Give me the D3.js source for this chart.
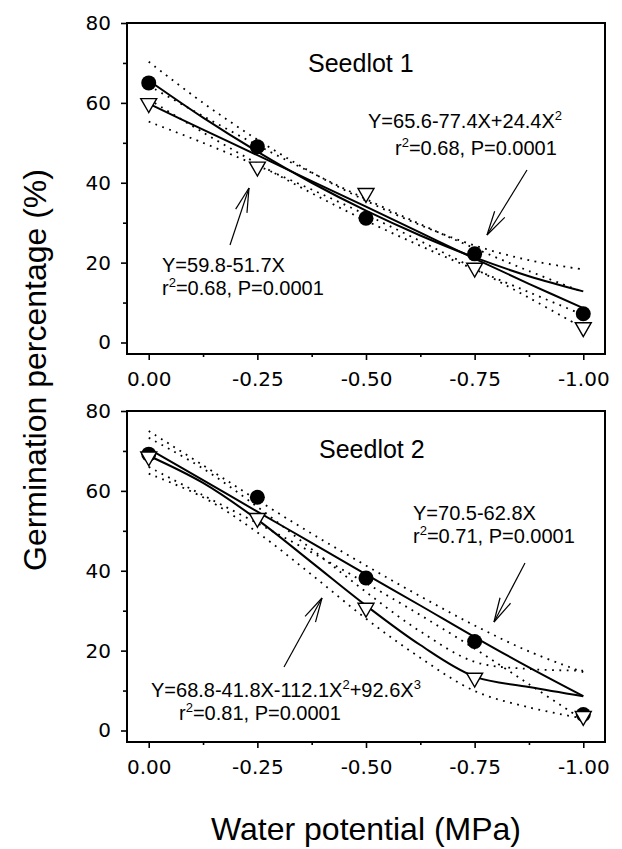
<!DOCTYPE html>
<html><head><meta charset="utf-8">
<script src="https://cdn.jsdelivr.net/npm/d3@7"></script>
<style>
html,body{margin:0;padding:0;background:#fff;}
svg{display:block;}
</style></head>
<body>
<script>
// ---------------- DATA ----------------
const waterPotential = [0, -0.25, -0.5, -0.75, -1.0];
const s1Circles   = [65.0, 49.0, 31.1, 22.2, 7.2];
const s1Triangles = [59.9, 44.0, 37.4, 18.7, 3.8];
const s2Circles   = [69.2, 58.4, 38.2, 22.3, 4.0];
const s2Triangles = [68.6, 53.2, 30.7, 13.2, 3.6];

// fitted curves and 95% bands read at these X values
const fitX = [0, -0.125, -0.25, -0.375, -0.5, -0.625, -0.75, -0.875, -1.0];
// Seedlot 1: quadratic (circles) and linear (triangles)
const s1Quad      = [65.6, 56.3, 47.8, 40.0, 33.0, 26.8, 21.3, 16.6, 12.8];
const s1QuadUpper = [70.3, 60.0, 50.8, 42.6, 35.5, 29.4, 24.3, 20.6, 18.3];
const s1QuadLower = [60.9, 52.6, 44.8, 37.4, 30.5, 24.2, 18.3, 12.6, 6.9];
const s1Lin       = [59.8, 53.3, 46.9, 40.4, 34.0, 27.5, 21.0, 14.7, 8.6];
const s1LinUpper  = [64.3, 56.7, 49.4, 42.5, 35.9, 29.6, 23.6, 17.9, 12.6];
const s1LinLower  = [55.3, 50.0, 44.3, 38.3, 32.0, 25.4, 18.5, 11.2, 3.6];
// Seedlot 2: linear (circles) and cubic (triangles)
const s2Lin       = [70.5, 62.7, 54.8, 47.0, 39.1, 31.3, 23.4, 15.8, 8.6];
const s2LinUpper  = [75.0, 66.4, 57.7, 49.3, 41.3, 33.6, 26.3, 19.8, 14.6];
const s2LinLower  = [66.0, 58.9, 51.9, 44.6, 36.9, 28.9, 20.5, 11.6, 2.6];
const s2Cub       = [68.8, 62.0, 52.8, 42.1, 31.3, 21.4, 13.5, 10.9, 8.6];
const s2CubUpper  = [73.3, 65.6, 56.0, 45.4, 34.7, 24.8, 17.2, 15.4, 15.0];
const s2CubLower  = [64.3, 58.4, 49.6, 39.0, 28.0, 18.2, 9.9, 5.8, 3.0];

const yTicks = [0, 20, 40, 60, 80];
const yMinorTicks = [10, 30, 50, 70];
const xTicks = [0, -0.25, -0.5, -0.75, -1.0];
const xMinorTicks = [-0.125, -0.375, -0.625, -0.875];
const xTickLabels = ["0.00", "-0.25", "-0.50", "-0.75", "-1.00"];

const xTitle = "Water potential (MPa)";
const yTitle = "Germination percentage (%)";

// ---------------- LAYOUT ----------------
const W = 622, H = 849;
const svg = d3.select("body").append("svg").attr("width", W).attr("height", H);
const xLeft = 127, xRight = 605;
const plotH = 331, zeroY = 319.5;

const x = d3.scaleLinear().domain([0.05, -1.05]).range([xLeft, xRight]);
const y = d3.scaleLinear().domain([0, 80]).range([zeroY, 0]);

const TEXT_FONT = "'Liberation Sans', Arial, Helvetica, sans-serif";
const TICK_FONT = "'DejaVu Sans', Verdana, sans-serif";

function richText(g, px, py, parts, size) {
  const t = g.append("text").attr("x", px).attr("y", py)
    .attr("font-family", TEXT_FONT).attr("font-size", size).attr("fill", "#000");
  let raised = false;
  parts.forEach(p => {
    const sup = p[1];
    const ts = t.append("tspan").text(p[0]);
    if (sup && !raised) { ts.attr("dy", -8).attr("font-size", 13); raised = true; }
    else if (sup) { ts.attr("font-size", 13); }
    else if (!sup && raised) { ts.attr("dy", 8); raised = false; }
  });
}

function arrow(g, x1, y1, x2, y2) {
  g.append("line").attr("x1", x1).attr("y1", y1).attr("x2", x2).attr("y2", y2)
    .attr("stroke", "#000").attr("stroke-width", 1.2);
  const ang = Math.atan2(y1 - y2, x1 - x2);
  const len = 25, spread = 0.24;
  [ang - spread, ang + spread].forEach(a => {
    g.append("line").attr("x1", x2).attr("y1", y2)
      .attr("x2", x2 + len * Math.cos(a)).attr("y2", y2 + len * Math.sin(a))
      .attr("stroke", "#000").attr("stroke-width", 1.2);
  });
}

function panel(top, cfg) {
  const g = svg.append("g").attr("transform", `translate(0,${top})`);

  const yAxis = d3.axisLeft(y).tickValues(yTicks).tickSize(6).tickSizeOuter(0).tickPadding(8);
  const yMinor = d3.axisLeft(y).tickValues(yMinorTicks).tickSize(4).tickFormat("");
  const xAxis = d3.axisBottom(x).tickValues(xTicks).tickSize(6).tickSizeOuter(0)
    .tickFormat((d, i) => xTickLabels[i]).tickPadding(12);
  const xMinor = d3.axisBottom(x).tickValues(xMinorTicks).tickSize(3).tickFormat("");

  const ya = g.append("g").attr("transform", `translate(${xLeft},0)`).call(yAxis);
  g.append("g").attr("transform", `translate(${xLeft},0)`).call(yMinor);
  g.append("g").attr("transform", `translate(0,${plotH})`).call(xAxis);
  g.append("g").attr("transform", `translate(0,${plotH})`).call(xMinor);
  g.selectAll(".domain").remove();
  g.selectAll(".tick line").attr("stroke", "#000").attr("stroke-width", 1.6);
  g.selectAll(".tick text").attr("font-family", TICK_FONT).attr("font-size", 20).attr("fill", "#000");
  ya.selectAll(".tick text").attr("dx", -2);

  g.append("rect").attr("x", xLeft).attr("y", 0).attr("width", xRight - xLeft).attr("height", plotH)
    .attr("fill", "none").attr("stroke", "#000").attr("stroke-width", 2);

  const line = d3.line().x((d, i) => x(fitX[i])).y(d => y(d)).curve(d3.curveCatmullRom);

  cfg.bands.forEach(b => {
    g.append("path").datum(b).attr("d", line).attr("fill", "none")
      .attr("stroke", "#000").attr("stroke-width", 1.8).attr("stroke-dasharray", "1.8 5.5");
  });
  cfg.fits.forEach(f => {
    g.append("path").datum(f).attr("d", line).attr("fill", "none")
      .attr("stroke", "#000").attr("stroke-width", 2);
  });

  g.selectAll("circle.pt").data(cfg.circles).enter().append("circle").attr("class", "pt")
    .attr("cx", (d, i) => x(waterPotential[i])).attr("cy", d => y(d)).attr("r", 7.5)
    .attr("fill", "#000");
  const tri = d3.symbol().type(d3.symbolTriangle).size(110);
  g.selectAll("path.tri").data(cfg.triangles).enter().append("path").attr("class", "tri")
    .attr("d", tri)
    .attr("transform", (d, i) => `translate(${x(waterPotential[i])},${y(d)}) rotate(180)`)
    .attr("fill", "#fff").attr("stroke", "#000").attr("stroke-width", 1.4);

  g.append("text").attr("x", cfg.title[1]).attr("y", cfg.title[2])
    .attr("font-family", TEXT_FONT).attr("font-size", 25).text(cfg.title[0]);
  cfg.texts.forEach(t => richText(g, t[0], t[1], t[2], 20));
  cfg.arrows.forEach(a => arrow(g, a[0], a[1], a[2], a[3]));
}

panel(23, {
  bands: [s1QuadUpper, s1QuadLower, s1LinUpper, s1LinLower],
  fits: [s1Quad, s1Lin],
  circles: s1Circles, triangles: s1Triangles,
  title: ["Seedlot 1", 308, 49],
  texts: [
    [368, 105, [["Y=65.6-77.4X+24.4X", false], ["2", true]]],
    [395, 132, [["r", false], ["2", true], ["=0.68, P=0.0001", false]]],
    [162, 249, [["Y=59.8-51.7X", false]]],
    [162, 272, [["r", false], ["2", true], ["=0.68, P=0.0001", false]]]
  ],
  arrows: [[230, 222, 249, 165], [527, 147, 487, 212]]
});

panel(411, {
  bands: [s2LinUpper, s2LinLower, s2CubUpper, s2CubLower],
  fits: [s2Lin, s2Cub],
  circles: s2Circles, triangles: s2Triangles,
  title: ["Seedlot 2", 319, 47],
  texts: [
    [413, 109, [["Y=70.5-62.8X", false]]],
    [413, 132, [["r", false], ["2", true], ["=0.71, P=0.0001", false]]],
    [151, 286, [["Y=68.8-41.8X-112.1X", false], ["2", true], ["+92.6X", false], ["3", true]]],
    [179, 309, [["r", false], ["2", true], ["=0.81, P=0.0001", false]]]
  ],
  arrows: [[525, 152, 494, 211], [284, 256, 322, 187]]
});

svg.append("text").attr("x", 366).attr("y", 840).attr("text-anchor", "middle")
  .attr("font-family", TEXT_FONT).attr("font-size", 32).text(xTitle);
svg.append("text").attr("transform", "translate(46,370) rotate(-90)").attr("text-anchor", "middle")
  .attr("font-family", TEXT_FONT).attr("font-size", 32).text(yTitle);
</script>
</body></html>
